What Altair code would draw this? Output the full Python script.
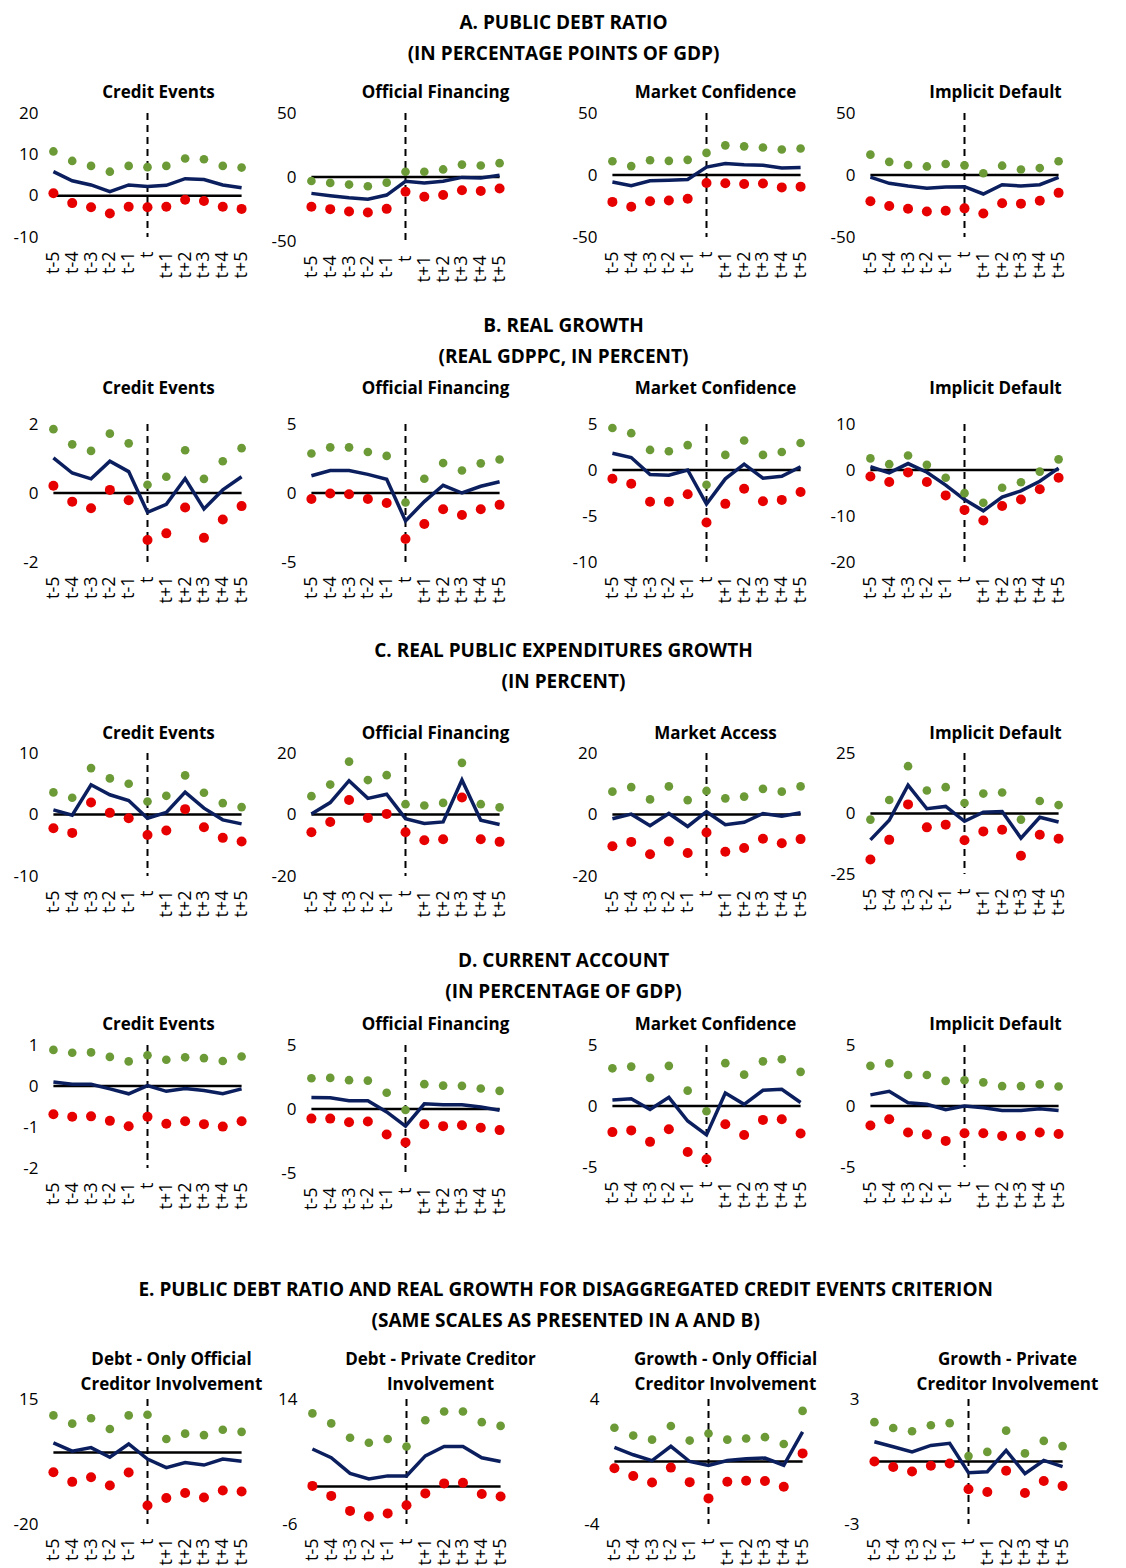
import altair as alt
import pandas as pd

PERIODS = ["t-5", "t-4", "t-3", "t-2", "t-1", "t", "t+1", "t+2", "t+3", "t+4", "t+5"]

# ---- A. Public debt ratio ----
A_CE_HI = [10.7, 8.4, 7.2, 5.8, 7.2, 6.9, 7.2, 9.0, 8.8, 7.2, 6.8]
A_CE_MEAN = [5.8, 3.6, 2.6, 1.0, 2.6, 2.2, 2.5, 4.1, 3.9, 2.6, 1.9]
A_CE_LO = [0.6, -1.8, -2.8, -4.3, -2.7, -2.8, -2.7, -1.0, -1.3, -2.7, -3.2]

A_OF_HI = [-3.1, -4.6, -5.9, -7.2, -4.4, 4.1, 4.1, 5.9, 9.7, 9.0, 10.8]
A_OF_MEAN = [-12.8, -14.6, -16.2, -17.4, -14.1, -3.3, -4.6, -3.3, -0.3, -0.8, 1.3]
A_OF_LO = [-23.3, -25.1, -26.9, -27.7, -24.9, -11.5, -15.4, -14.1, -10.3, -11.0, -9.0]

A_MC_HI = [11.1, 7.2, 11.9, 11.4, 12.2, 17.8, 23.9, 23.1, 22.2, 20.6, 21.4]
A_MC_MEAN = [-5.6, -8.6, -4.7, -4.2, -3.6, 6.4, 9.2, 8.3, 7.8, 5.6, 6.1]
A_MC_LO = [-21.7, -25.6, -21.1, -20.6, -19.2, -6.4, -6.7, -7.2, -6.9, -10.0, -9.4]

A_ID_HI = [16.4, 10.6, 8.1, 6.9, 8.9, 7.8, 1.4, 7.5, 4.4, 5.6, 11.1]
A_ID_MEAN = [-1.7, -6.7, -8.9, -10.6, -9.7, -9.4, -15.3, -7.8, -8.9, -7.8, -1.9]
A_ID_LO = [-21.1, -25.0, -27.2, -29.4, -28.9, -26.9, -31.1, -22.8, -23.1, -20.8, -14.4]

# ---- B. Real growth ----
B_CE_HI = [1.85, 1.41, 1.22, 1.72, 1.44, 0.24, 0.47, 1.24, 0.41, 0.92, 1.30]
B_CE_MEAN = [1.02, 0.58, 0.41, 0.92, 0.62, -0.56, -0.33, 0.42, -0.46, 0.09, 0.47]
B_CE_LO = [0.21, -0.25, -0.44, 0.09, -0.21, -1.36, -1.17, -0.42, -1.30, -0.77, -0.38]

B_OF_HI = [2.86, 3.31, 3.31, 2.97, 2.69, -0.69, 1.03, 2.17, 1.63, 2.15, 2.43]
B_OF_MEAN = [1.25, 1.63, 1.63, 1.35, 0.99, -2.02, -0.62, 0.56, 0.0, 0.49, 0.82]
B_OF_LO = [-0.43, -0.04, -0.09, -0.43, -0.73, -3.33, -2.24, -1.18, -1.59, -1.18, -0.86]

B_MC_HI = [4.57, 4.0, 2.18, 2.04, 2.71, -1.61, 1.64, 3.21, 1.64, 1.96, 2.93]
B_MC_MEAN = [1.82, 1.36, -0.5, -0.57, 0.0, -3.71, -0.96, 0.64, -0.89, -0.68, 0.36]
B_MC_LO = [-0.96, -1.5, -3.46, -3.46, -2.64, -5.71, -3.68, -2.04, -3.39, -3.25, -2.39]

B_ID_HI = [2.52, 1.26, 3.15, 1.12, -1.68, -5.03, -7.13, -3.85, -2.66, -0.35, 2.31]
B_ID_MEAN = [0.7, -0.63, 1.4, -0.49, -3.29, -6.43, -8.88, -5.87, -4.55, -2.45, 0.42]
B_ID_LO = [-1.4, -2.59, -0.56, -2.59, -5.52, -8.67, -10.98, -7.83, -6.43, -4.2, -1.68]

# ---- C. Real public expenditures growth ----
C_CE_HI = [3.59, 2.72, 7.55, 5.87, 5.0, 2.12, 3.04, 6.36, 3.53, 1.85, 1.2]
C_CE_MEAN = [0.76, -0.1, 4.84, 3.21, 2.28, -0.6, 0.33, 3.64, 1.03, -0.87, -1.52]
C_CE_LO = [-2.23, -2.99, 1.96, 0.27, -0.6, -3.32, -2.61, 0.87, -2.07, -3.8, -4.4]

C_OF_HI = [5.97, 9.74, 17.2, 11.2, 12.8, 3.35, 2.93, 3.77, 16.8, 3.35, 2.3]
C_OF_MEAN = [0.2, 3.87, 11.0, 5.24, 6.6, -1.36, -2.93, -2.41, 11.2, -1.88, -3.25]
C_OF_LO = [-5.76, -2.41, 4.71, -1.15, 0.2, -5.76, -8.38, -8.06, 5.55, -8.06, -8.9]

C_MA_HI = [7.43, 8.91, 4.91, 9.14, 4.69, 7.66, 5.26, 5.83, 8.34, 7.43, 9.14]
C_MA_MEAN = [-1.37, 0.11, -3.66, 0.34, -3.89, 0.91, -3.31, -2.51, 0.34, -0.57, 0.57]
C_MA_LO = [-10.3, -8.91, -12.9, -8.8, -12.5, -5.83, -12.1, -10.9, -7.89, -9.37, -8.0]

C_ID_HI = [-2.51, 5.59, 19.55, 9.5, 10.89, 4.33, 8.24, 8.66, -2.51, 5.17, 3.49]
C_ID_MEAN = [-10.89, -2.79, 11.73, 1.96, 2.93, -3.21, 0.56, 0.84, -10.2, -1.54, -3.49]
C_ID_LO = [-18.99, -10.89, 3.77, -5.73, -4.61, -11.03, -7.4, -6.7, -17.46, -8.8, -10.47]

# ---- D. Current account ----
D_CE_HI = [0.88, 0.81, 0.82, 0.71, 0.60, 0.75, 0.64, 0.70, 0.68, 0.61, 0.72]
D_CE_MEAN = [0.10, 0.04, 0.04, -0.07, -0.19, 0.01, -0.13, -0.06, -0.11, -0.19, -0.07]
D_CE_LO = [-0.69, -0.75, -0.74, -0.85, -0.98, -0.75, -0.92, -0.86, -0.93, -0.99, -0.86]

D_OF_HI = [2.4, 2.43, 2.25, 2.22, 1.27, -0.08, 1.94, 1.83, 1.81, 1.6, 1.42]
D_OF_MEAN = [0.9, 0.88, 0.65, 0.65, -0.23, -1.34, 0.41, 0.34, 0.34, 0.16, -0.1]
D_OF_LO = [-0.75, -0.75, -1.03, -0.98, -1.99, -2.61, -1.19, -1.34, -1.27, -1.47, -1.65]

D_MC_HI = [3.09, 3.23, 2.31, 3.29, 1.26, -0.43, 3.51, 2.57, 3.66, 3.83, 2.8]
D_MC_MEAN = [0.49, 0.6, -0.29, 0.71, -1.23, -2.37, 1.06, 0.14, 1.29, 1.37, 0.29]
D_MC_LO = [-2.14, -2.0, -2.94, -1.91, -3.77, -4.37, -1.49, -2.37, -1.14, -1.09, -2.26]

D_ID_HI = [3.29, 3.49, 2.54, 2.54, 2.06, 2.11, 1.94, 1.63, 1.63, 1.77, 1.6]
D_ID_MEAN = [0.91, 1.2, 0.26, 0.14, -0.31, 0.0, -0.14, -0.37, -0.37, -0.23, -0.37]
D_ID_LO = [-1.6, -1.09, -2.17, -2.34, -2.86, -2.23, -2.23, -2.46, -2.46, -2.17, -2.29]

# ---- E. Disaggregated credit events ----
E_DO_HI = [10.4, 8.1, 9.6, 6.6, 10.4, 10.6, 3.8, 5.3, 4.9, 6.4, 5.8]
E_DO_MEAN = [2.7, 0.4, 1.4, -1.3, 2.4, -1.8, -4.2, -2.8, -3.5, -1.8, -2.4]
E_DO_LO = [-5.5, -8.2, -6.9, -9.2, -5.6, -14.8, -12.7, -11.3, -12.6, -10.6, -10.9]

E_DP_HI = [11.7, 10.1, 7.8, 7.0, 7.6, 6.4, 10.6, 12.0, 12.0, 10.3, 9.7]
E_DP_MEAN = [6.0, 4.6, 2.1, 1.2, 1.7, 1.7, 4.9, 6.4, 6.4, 4.6, 4.0]
E_DP_LO = [0.1, -1.5, -3.9, -4.8, -4.3, -3.0, -1.1, 0.5, 0.6, -1.2, -1.6]

E_GO_HI = [2.16, 1.66, 1.4, 2.27, 1.34, 1.79, 1.4, 1.47, 1.56, 1.12, 3.24]
E_GO_MEAN = [0.91, 0.43, 0.06, 0.97, 0.0, -0.26, 0.06, 0.17, 0.22, -0.24, 1.9]
E_GO_LO = [-0.43, -0.93, -1.34, -0.39, -1.32, -2.36, -1.3, -1.23, -1.25, -1.62, 0.52]

E_GP_HI = [1.89, 1.61, 1.45, 1.74, 1.84, 0.26, 0.46, 1.48, 0.39, 0.99, 0.74]
E_GP_MEAN = [0.95, 0.71, 0.46, 0.77, 0.87, -0.54, -0.49, 0.53, -0.58, 0.05, -0.25]
E_GP_LO = [0.0, -0.26, -0.48, -0.2, -0.1, -1.33, -1.46, -0.44, -1.51, -0.94, -1.18]

SECTION_TITLES = [
    ["A. PUBLIC DEBT RATIO", "(IN PERCENTAGE POINTS OF GDP)"],
    ["B. REAL GROWTH", "(REAL GDPPC, IN PERCENT)"],
    ["C. REAL PUBLIC EXPENDITURES GROWTH", "(IN PERCENT)"],
    ["D. CURRENT ACCOUNT", "(IN PERCENTAGE OF GDP)"],
    ["E. PUBLIC DEBT RATIO AND REAL GROWTH FOR DISAGGREGATED CREDIT EVENTS CRITERION",
     "(SAME SCALES AS PRESENTED IN A AND B)"],
]

FONT = "Open Sans"
GREEN = "#6B9A37"
RED = "#E60000"
NAVY = "#0B1F5F"
PW = 207
TITLE_DX = [11, 30, 9, 31]
EXTENTS = [35, 35, 78, 35]
TITLE_DX_E = [24, 34, 17, 39]
EXTENTS_E = [35, 23, 53, 32]


def panel(title, hi, mean, lo, domain, ticks, height, toff, dx, extent):
    df = pd.DataFrame({"period": PERIODS, "hi": hi, "mean": mean, "lo": lo,
                       "zero": [0] * len(PERIODS)})
    base = alt.Chart(df)
    x = alt.X("period:N", sort=PERIODS,
              scale=alt.Scale(type="point", padding=0.5),
              axis=alt.Axis(title=None, labelAngle=-90, labelPadding=14, labelFontSize=18))
    yscale = alt.Scale(domain=domain, nice=False, zero=False)
    yaxis = alt.Axis(title=None, values=ticks, minExtent=extent, maxExtent=extent,
                     labelPadding=6, labelExpr="'' + datum.value")

    def y(field):
        return alt.Y(f"{field}:Q", scale=yscale, axis=yaxis)

    zero = base.mark_line(color="black", strokeWidth=2.5).encode(x=x, y=y("zero"))
    vline = base.transform_filter(alt.datum.period == "t").mark_rule(
        color="black", strokeWidth=2, strokeDash=[7, 5]).encode(x=x)
    line = base.mark_line(color=NAVY, strokeWidth=3.5).encode(x=x, y=y("mean"))
    hi_pts = base.mark_circle(color=GREEN, size=75, opacity=1).encode(x=x, y=y("hi"))
    lo_pts = base.mark_circle(color=RED, size=100, opacity=1).encode(x=x, y=y("lo"))
    return alt.layer(zero, vline, line, hi_pts, lo_pts).properties(
        width=PW, height=height,
        title=alt.TitleParams(title, fontSize=17, font=FONT, fontWeight="bold",
                              offset=toff, lineHeight=25, color="black", dx=dx))


def row(title_lines, panels, offset, tdx):
    return alt.hconcat(*panels, spacing=14).properties(
        title=alt.TitleParams(title_lines, fontSize=19, font=FONT, fontWeight="bold",
                              anchor="middle", offset=offset, lineHeight=31,
                              color="black", dx=tdx))


def std_row(specs, toff):
    return [panel(t, hi, me, lo, dom, tk, h, toff, TITLE_DX[i], EXTENTS[i])
            for i, (t, hi, me, lo, dom, tk, h) in enumerate(specs)]


row_a = row(SECTION_TITLES[0], std_row([
    ("Credit Events", A_CE_HI, A_CE_MEAN, A_CE_LO, [-10, 20], [-10, 0, 10, 20], 124),
    ("Official Financing", A_OF_HI, A_OF_MEAN, A_OF_LO, [-50, 50], [-50, 0, 50], 128),
    ("Market Confidence", A_MC_HI, A_MC_MEAN, A_MC_LO, [-50, 50], [-50, 0, 50], 124),
    ("Implicit Default", A_ID_HI, A_ID_MEAN, A_ID_LO, [-50, 50], [-50, 0, 50], 124),
], 2), 20, 25)

row_b = row(SECTION_TITLES[1], std_row([
    ("Credit Events", B_CE_HI, B_CE_MEAN, B_CE_LO, [-2, 2], [-2, 0, 2], 138),
    ("Official Financing", B_OF_HI, B_OF_MEAN, B_OF_LO, [-5, 5], [-5, 0, 5], 138),
    ("Market Confidence", B_MC_HI, B_MC_MEAN, B_MC_LO, [-10, 5], [-10, -5, 0, 5], 138),
    ("Implicit Default", B_ID_HI, B_ID_MEAN, B_ID_LO, [-20, 10], [-20, -10, 0, 10], 138),
], 17), 13, 25)

row_c = row(SECTION_TITLES[2], std_row([
    ("Credit Events", C_CE_HI, C_CE_MEAN, C_CE_LO, [-10, 10], [-10, 0, 10], 123),
    ("Official Financing", C_OF_HI, C_OF_MEAN, C_OF_LO, [-20, 20], [-20, 0, 20], 123),
    ("Market Access", C_MA_HI, C_MA_MEAN, C_MA_LO, [-20, 20], [-20, 0, 20], 123),
    ("Implicit Default", C_ID_HI, C_ID_MEAN, C_ID_LO, [-25, 25], [-25, 0, 25], 121),
], 1), 33, 25)

row_d = row(SECTION_TITLES[3], std_row([
    ("Credit Events", D_CE_HI, D_CE_MEAN, D_CE_LO, [-2, 1], [-2, -1, 0, 1], 123),
    ("Official Financing", D_OF_HI, D_OF_MEAN, D_OF_LO, [-5, 5], [-5, 0, 5], 128),
    ("Market Confidence", D_MC_HI, D_MC_MEAN, D_MC_LO, [-5, 5], [-5, 0, 5], 122),
    ("Implicit Default", D_ID_HI, D_ID_MEAN, D_ID_LO, [-5, 5], [-5, 0, 5], 122),
], 2), 14, 25)

E_SPECS = [
    (["Debt - Only Official", "Creditor Involvement"], E_DO_HI, E_DO_MEAN, E_DO_LO, [-20, 15], [-20, 15]),
    (["Debt - Private Creditor", "Involvement"], E_DP_HI, E_DP_MEAN, E_DP_LO, [-6, 14], [-6, 14]),
    (["Growth - Only Official", "Creditor Involvement"], E_GO_HI, E_GO_MEAN, E_GO_LO, [-4, 4], [-4, 4]),
    (["Growth - Private", "Creditor Involvement"], E_GP_HI, E_GP_MEAN, E_GP_LO, [-3, 3], [-3, 3]),
]
row_e = row(SECTION_TITLES[4], [
    panel(t, hi, me, lo, dom, tk, 125, -4, TITLE_DX_E[i], EXTENTS_E[i])
    for i, (t, hi, me, lo, dom, tk) in enumerate(E_SPECS)
], 20, 12)

ab = alt.vconcat(row_a, row_b, spacing=33)
abc = alt.vconcat(ab, row_c, spacing=37)
abcd = alt.vconcat(abc, row_d, spacing=33)

chart = alt.vconcat(abcd, row_e, spacing=65).properties(
    padding={"top": 5, "left": 0, "right": 0, "bottom": 0}
).configure_view(stroke="transparent").configure_axis(
    labelFont=FONT, labelFontSize=17, labelColor="black", ticks=False, domain=False,
    grid=False,
)

chart.save("out.html", embed_options={"renderer": "svg", "actions": False})
